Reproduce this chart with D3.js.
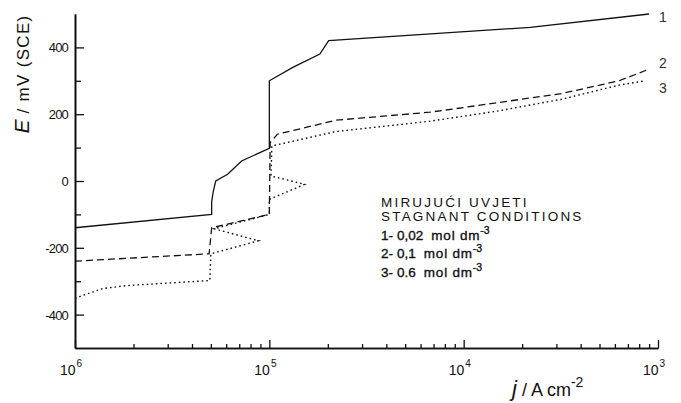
<!DOCTYPE html>
<html>
<head>
<meta charset="utf-8">
<script src="https://cdn.jsdelivr.net/npm/d3@7"></script>
<style>
  html, body { margin: 0; padding: 0; background: #fff; }
  svg { display: block; font-family: "Liberation Sans", Arial, sans-serif; }
</style>
</head>
<body>
<svg id="chart" width="681" height="403"></svg>
<script>
// Polarisation curves, stagnant conditions: current density j (A cm^-2) vs potential E (mV SCE)
const curve1 = [
  [1.0e-6, -140], [5.05e-6, -100], [5.05e-6, -62], [5.15e-6, -30], [5.3e-6, 0],
  [6.1e-6, 20], [7.2e-6, 60], [1.0e-5, 98], [1.0e-5, 300], [1.32e-5, 340],
  [1.82e-5, 380], [2.02e-5, 420], [2.2e-4, 460], [9.0e-4, 500]
];
const curve2 = [
  [1.0e-6, -240], [4.9e-6, -218], [5.05e-6, -140], [1.0e-5, -100], [1.01e-5, 115],
  [1.1e-5, 140], [2.2e-5, 182], [6.7e-5, 206], [1.0e-4, 220], [3.2e-4, 262],
  [6.3e-4, 300], [9.0e-4, 335]
];
const curve3 = [
  [1.0e-6, -352], [1.09e-6, -343], [1.39e-6, -322], [1.85e-6, -313], [4.94e-6, -298],
  [5.0e-6, -218], [8.8e-6, -179], [5.2e-6, -143], [1.0e-5, -100], [1.0e-5, -55],
  [1.52e-5, -10], [1.02e-5, 15], [1.03e-5, 105], [2.2e-5, 148], [6.7e-5, 179],
  [1.48e-4, 209], [3.2e-4, 245], [6.3e-4, 287], [8.6e-4, 300]
];
const curveNames = ["1", "2", "3"];

const xMajor = [1e-6, 1e-5, 1e-4, 1e-3];
const xMajorExp = ["6", "5", "4", "3"];
const yMajor = [-400, -200, 0, 200, 400];
const yMinor = [-300, -100, 100, 300];

const legendTitle = ["MIRUJUĆI UVJETI", "STAGNANT CONDITIONS"];
const legendNum = ["1-", "2-", "3-"];
const legendConc = ["0,02", "0,1", "0.6"];

const svg = d3.select("#chart");
const x = d3.scaleLog().domain([1e-6, 1e-3]).range([75, 658]);
const y = d3.scaleLinear().domain([-500, 500]).range([348, 14]);

// minor x ticks: 2..9 in each decade
const xMinor = [];
for (let e = -6; e < -3; e++) for (let m = 2; m <= 9; m++) xMinor.push(m * Math.pow(10, e));

const axisStyle = g => {
  g.selectAll("path.domain").attr("stroke", "#111").attr("stroke-width", 1.6);
  g.selectAll(".tick line").attr("stroke", "#111").attr("stroke-width", 1.3);
  g.selectAll(".tick text").remove();
};

svg.append("g").attr("transform", "translate(0,348)")
  .call(d3.axisBottom(x).tickValues(xMinor).tickSizeInner(-4).tickSizeOuter(0).tickFormat(""))
  .call(axisStyle);
svg.append("g").attr("transform", "translate(0,348)")
  .call(d3.axisBottom(x).tickValues(xMajor).tickSizeInner(-8).tickSizeOuter(0).tickFormat(""))
  .call(axisStyle);
svg.append("g").attr("transform", "translate(75,0)")
  .call(d3.axisLeft(y).tickValues(yMinor).tickSizeInner(-6).tickSizeOuter(0).tickFormat(""))
  .call(axisStyle);
svg.append("g").attr("transform", "translate(75,0)")
  .call(d3.axisLeft(y).tickValues(yMajor).tickSizeInner(-9).tickSizeOuter(0).tickFormat(""))
  .call(axisStyle);

// y tick labels
svg.append("g").selectAll("text").data(yMajor).join("text")
  .attr("x", 68).attr("y", d => y(d) + 5)
  .attr("text-anchor", "end").attr("font-size", 13).attr("letter-spacing", -0.8)
  .attr("fill", "#111")
  .text(d => d < 0 ? "-" + Math.abs(d) : d);

// x tick labels: 10 with superscript exponent
const xl = svg.append("g").selectAll("text").data(xMajor).join("text")
  .attr("x", d => x(d) - 15).attr("y", 375)
  .attr("font-size", 14).attr("fill", "#111");
xl.append("tspan").text("10");
xl.append("tspan").attr("dy", -8).attr("dx", 1).attr("font-size", 10).text((d, i) => xMajorExp[i]);

// axis titles
const yt = svg.append("text")
  .attr("transform", "translate(29,74) rotate(-90)")
  .attr("text-anchor", "middle").attr("fill", "#111").attr("font-size", 17);
yt.append("tspan").attr("font-style", "italic").attr("font-size", 21).text("E");
yt.append("tspan").text(" / mV (SCE)").attr("letter-spacing", 1.3);

const xt = svg.append("text")
  .attr("x", 512).attr("y", 396).attr("fill", "#111").attr("font-size", 18);
xt.append("tspan").attr("font-style", "italic").attr("font-size", 22).text("j");
xt.append("tspan").text(" / A cm");
xt.append("tspan").attr("dy", -9).attr("font-size", 14).text("-2");

// curves
const line = d3.line().x(d => x(d[0])).y(d => y(d[1]));
const curves = [curve1, curve2, curve3];
const dashes = [null, "7,4", "1.6,3"];
const widths = [1.3, 1.3, 1.4];
svg.append("g").selectAll("path").data(curves).join("path")
  .attr("d", line)
  .attr("fill", "none").attr("stroke", "#111")
  .attr("stroke-width", (d, i) => widths[i])
  .attr("stroke-dasharray", (d, i) => dashes[i]);

// curve numbers at right end
const endY = [17, 63, 88];
svg.append("g").selectAll("text").data(curveNames).join("text")
  .attr("x", 659).attr("y", (d, i) => endY[i] + 5)
  .attr("font-size", 14).attr("fill", "#333").text(d => d);

// legend block
svg.append("g").selectAll("text").data(legendTitle).join("text")
  .attr("x", 381).attr("y", (d, i) => 207 + i * 14)
  .attr("font-size", 13.5).attr("letter-spacing", 2.2).attr("fill", "#111").text(d => d);

const lg = svg.append("g").selectAll("text").data(legendNum).join("text")
  .attr("x", 381).attr("y", (d, i) => [240, 258, 277][i])
  .attr("font-size", 13.5).attr("fill", "#111")
  .attr("stroke", "#111").attr("stroke-width", 0.35);
lg.append("tspan").text(d => d);
lg.append("tspan").attr("x", 397).text((d, i) => legendConc[i]);
lg.append("tspan").attr("dx", 8).attr("letter-spacing", 0.8).text("mol dm");
lg.append("tspan").attr("dy", -6).attr("font-size", 10.5).text("-3");
</script>
</body>
</html>
